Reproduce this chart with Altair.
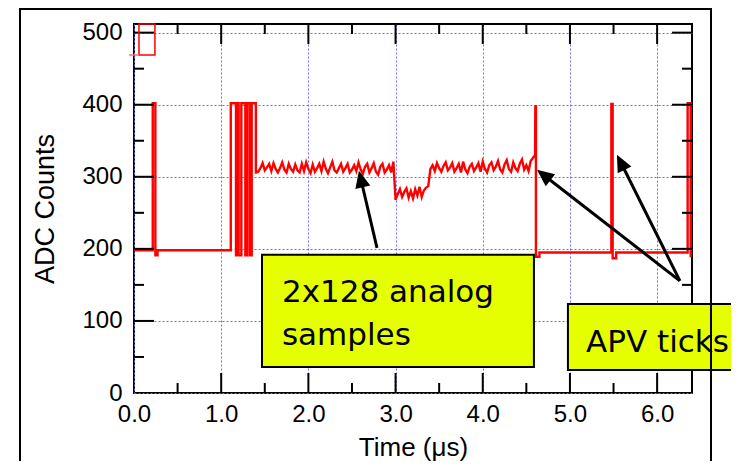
import altair as alt
import pandas as pd

# ---------------- data ----------------
# trace before the analog samples: baseline, first APV tick, digital header (time in us, ADC counts)
pre_t = [0.0, 0.215, 0.215, 0.245, 0.245, 0.27, 0.27,
         1.11, 1.11, 1.17, 1.17, 1.185, 1.185, 1.2, 1.2, 1.231, 1.231,
         1.277, 1.277, 1.3, 1.3, 1.33, 1.33, 1.35, 1.35, 1.398, 1.398]
pre_v = [198, 198, 402, 402, 191, 191, 198,
         198, 402, 402, 191, 191, 402, 402, 191, 191, 402,
         402, 191, 191, 402, 402, 191, 191, 402, 402, 306]

# analog samples, one every 25 ns starting at 1.400 us
sample_t0 = 1.400
sample_dt = 0.025
sample_v = [306, 307, 312, 319, 309, 313, 318, 308, 319, 311,
            306, 312, 320, 310, 306, 318, 311, 307, 317, 309,
            306, 318, 308, 320, 311, 305, 317, 307, 312, 318,
            308, 321, 311, 305, 313, 321, 309, 306, 312, 318,
            307, 312, 318, 306, 310, 316, 308, 320, 310, 304,
            314, 318, 306, 312, 319, 307, 303, 314, 318, 306,
            310, 316, 306, 321,
            268, 276, 283, 272, 279, 284, 271, 280, 270, 283,
            274, 286, 272, 281, 285, 287,
            311, 316, 308, 319, 312, 307, 315, 320, 309, 313,
            319, 307, 312, 318, 306, 321, 310, 305, 314, 318,
            308, 313, 319, 307, 321, 311, 306, 316, 320, 309,
            314, 322, 310, 306, 317, 323, 311, 307, 320, 312,
            308, 318, 324, 310, 316, 308, 322, 326, 330]

# trace after the samples: trailing APV ticks
post_t = [4.603, 4.61, 4.61, 4.65, 4.65, 5.475, 5.475, 5.49, 5.49, 5.53, 5.53,
          6.35, 6.35, 6.385, 6.385, 6.4]
post_v = [398, 398, 189, 189, 195, 195, 401, 401, 187, 187, 195,
          195, 402, 402, 190, 190]

x_labels = [0, 1, 2, 3, 4, 5, 6]
y_labels = [0, 100, 200, 300, 400, 500]
x_major = [1, 2, 3, 4, 5, 6]
x_minor = [0.5, 1.5, 2.5, 3.5, 4.5, 5.5]
y_major = [100, 200, 300, 400, 500]
y_minor = [50, 150, 250, 350, 450]

# annotation boxes and texts
box_t0 = [1.468, 4.977]
box_t1 = [4.587, 7.6]
box_v0 = [36.1, 31.9]
box_v1 = [191.7, 123.6]
text_lines = ["2x128 analog", "samples", "APV ticks"]
text_t = [1.697, 1.697, 5.185]
text_v = [126.4, 66.7, 56.9]

# arrows
arrow_tail_t = [2.787, 6.261, 6.261]
arrow_tail_v = [201.4, 155.6, 155.6]
arrow_neck_t = [2.611, 4.731, 5.601]
arrow_neck_v = [292.1, 299.4, 315.7]
arrow_tip_t = [2.580, 4.622, 5.539]
arrow_tip_v = [308.3, 309.7, 330.6]
arrow_angle = [346.8, 307.8, 333.4]

# small red marker box in the top-left corner
marker_t = [0.057, 0.24]
marker_v = [469, 512]
marker_line_t = [-0.057, 0.057]

# ---------------- chart ----------------
W, H = 558, 369

samp_t = [sample_t0 + k * sample_dt for k in range(len(sample_v))]
all_t = pre_t + samp_t + post_t
all_v = pre_v + sample_v + post_v
df_trace = pd.DataFrame({"t": all_t, "v": all_v, "i": list(range(len(all_t)))})

xscale = alt.Scale(domain=[0, 6.4], nice=False, zero=False)
yscale = alt.Scale(domain=[0, 512], nice=False, zero=False)

FONT = "Liberation Sans"
GRID = "#6a6aff"
xaxis = alt.Axis(values=x_labels, format=".1f", title="Time (μs)",
                 labelFont=FONT, labelFontSize=24, labelColor="black",
                 labelPadding=9, labelFlush=False, labelOverlap=False,
                 ticks=False, tickSize=0, domain=False,
                 grid=True, gridColor=GRID, gridDash=[2, 2], gridWidth=1,
                 titleFont=FONT, titleFontSize=26, titleFontWeight="normal",
                 titleColor="black", titleX=279, titleY=62,
                 titleAlign="center", titleBaseline="alphabetic")
yaxis = alt.Axis(values=y_labels, format="d", title="ADC Counts",
                 labelFont=FONT, labelFontSize=24, labelColor="black",
                 labelPadding=12, labelFlush=False, labelOverlap=False,
                 ticks=False, tickSize=0, domain=False,
                 grid=True, gridColor=GRID, gridDash=[2, 2], gridWidth=1,
                 titleFont=FONT, titleFontSize=27, titleFontWeight="normal",
                 titleColor="black", titleAngle=270, titleX=-81, titleY=184.5,
                 titleAlign="center", titleBaseline="alphabetic")


def X(f):
    return alt.X(f, type="quantitative", scale=xscale, axis=xaxis)


def Y(f):
    return alt.Y(f, type="quantitative", scale=yscale, axis=yaxis)


trace = alt.Chart(df_trace).mark_line(color="#ff0000", strokeWidth=2.4, clip=True).encode(
    x=X("t"), y=Y("v"), order=alt.Order("i:Q"))

layers = [trace]

# inward ticks on all four sides
for vals, length in [(x_major, 20), (x_minor, 10)]:
    d = pd.DataFrame({"t": vals})
    layers.append(alt.Chart(d).mark_rule(color="black", strokeWidth=2).encode(
        x=X("t"), y=alt.value(H), y2=alt.value(H - length)))
    layers.append(alt.Chart(d).mark_rule(color="black", strokeWidth=2).encode(
        x=X("t"), y=alt.value(0), y2=alt.value(length)))
for vals, length in [(y_major, 20), (y_minor, 10)]:
    d = pd.DataFrame({"v": vals})
    layers.append(alt.Chart(d).mark_rule(color="black", strokeWidth=2).encode(
        y=Y("v"), x=alt.value(0), x2=alt.value(length)))
    layers.append(alt.Chart(d).mark_rule(color="black", strokeWidth=2).encode(
        y=Y("v"), x=alt.value(W), x2=alt.value(W - length)))

# red marker in the corner
df_marker = pd.DataFrame({"t0": [marker_t[0]], "t1": [marker_t[1]],
                          "v0": [marker_v[0]], "v1": [marker_v[1]]})
layers.append(alt.Chart(df_marker).mark_rect(fillOpacity=0, stroke="#ff0000", strokeWidth=1.5).encode(
    x=X("t0"), x2="t1", y=Y("v0"), y2="v1"))
df_mline = pd.DataFrame({"t0": [marker_line_t[0]], "t1": [marker_line_t[1]], "v0": [marker_v[0]]})
layers.append(alt.Chart(df_mline).mark_rule(color="#ff7070", strokeWidth=1.5).encode(
    x=X("t0"), x2="t1", y=Y("v0")))

# annotation boxes
df_box = pd.DataFrame({"t0": box_t0, "t1": box_t1, "v0": box_v0, "v1": box_v1})
layers.append(alt.Chart(df_box).mark_rect(fill="#e6ff00", stroke="black", strokeWidth=2).encode(
    x=X("t0"), x2="t1", y=Y("v0"), y2="v1"))

df_text = pd.DataFrame({"t": text_t, "v": text_v, "s": text_lines})
layers.append(alt.Chart(df_text).mark_text(align="left", baseline="alphabetic", font="DejaVu Sans",
                                           fontSize=31, color="black").encode(
    x=X("t"), y=Y("v"), text="s:N"))

# arrows
df_arrow = pd.DataFrame({"t0": arrow_tail_t, "v0": arrow_tail_v,
                         "t1": arrow_neck_t, "v1": arrow_neck_v,
                         "tt": arrow_tip_t, "vt": arrow_tip_v, "a": arrow_angle})
layers.append(alt.Chart(df_arrow).mark_rule(color="black", strokeWidth=3).encode(
    x=X("t0"), y=Y("v0"), x2="t1", y2="v1"))
layers.append(alt.Chart(df_arrow).mark_point(shape="M0,0L-0.45,1L0.45,1Z", size=1156, filled=True,
                                             color="black", opacity=1, strokeWidth=0).encode(
    x=X("tt"), y=Y("vt"), angle=alt.Angle("a:Q", scale=None)))

# outer frame of the figure
layers.append(alt.Chart(pd.DataFrame({"k": [0]})).mark_rect(fillOpacity=0, stroke="black", strokeWidth=2).encode(
    x=alt.value(-114), x2=alt.value(577), y=alt.value(-15), y2=alt.value(443)))

chart = alt.layer(*layers).properties(
    width=W, height=H,
    padding={"left": 126, "top": 16, "right": 39, "bottom": 68},
    autosize=alt.AutoSizeParams(type="none"),
    background="white",
).configure_view(stroke="black", strokeWidth=2)

chart.save("out.html", embed_options={"renderer": "svg", "actions": False})
